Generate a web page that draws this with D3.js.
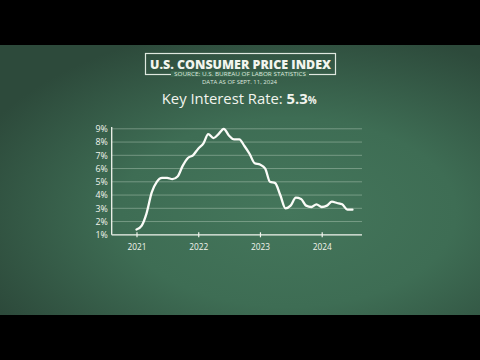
<!DOCTYPE html>
<html><head><meta charset="utf-8">
<script src="https://cdn.jsdelivr.net/npm/d3@7"></script>
<style>html,body{margin:0;padding:0;background:#000;}svg{display:block;}</style>
</head><body>
<script>
const months = d3.range(0, 43).map(i => new Date(2021, i, 1));
const cpi = [
  1.4, 1.7, 2.6, 4.2, 5.0, 5.3, 5.3, 5.2, 5.4, 6.2, 6.8, 7.0,
  7.5, 7.9, 8.6, 8.3, 8.6, 9.0, 8.5, 8.2, 8.2, 7.7, 7.1, 6.4,
  6.3, 6.0, 5.0, 4.9, 4.0, 3.0, 3.2, 3.8, 3.7, 3.2, 3.1, 3.3,
  3.1, 3.2, 3.5, 3.4, 3.3, 2.9, 2.9
];
const yTicks = [1, 2, 3, 4, 5, 6, 7, 8, 9];
const xTickYears = [2021, 2022, 2023, 2024];
const titleText = "U.S. CONSUMER PRICE INDEX";
const sourceText = "SOURCE: U.S. BUREAU OF LABOR STATISTICS";
const dateText = "DATA AS OF SEPT. 11, 2024";
const rateLabel = "Key Interest Rate: ";
const rateValue = "5.3";

const W = 480, H = 360;
const svg = d3.select("body").append("svg").attr("width", W).attr("height", H);
const defs = svg.append("defs");
const grad = defs.append("radialGradient").attr("id", "bg")
  .attr("cx", "60%").attr("cy", "62%").attr("r", "70%");
grad.append("stop").attr("offset", "0%").attr("stop-color", "#44765b");
grad.append("stop").attr("offset", "50%").attr("stop-color", "#3e6d54");
grad.append("stop").attr("offset", "100%").attr("stop-color", "#2d4a3b");

svg.append("rect").attr("width", W).attr("height", H).attr("fill", "#000");
svg.append("rect").attr("x", 0).attr("y", 45).attr("width", W).attr("height", 270).attr("fill", "url(#bg)");

const font = "'Open Sans', Lato, sans-serif";
const fg = "#f2f5ee";

// Title box
svg.append("rect").attr("x", 145.5).attr("y", 53.5).attr("width", 190).attr("height", 21)
  .attr("fill", "none").attr("stroke", "#dfe8df").attr("stroke-width", 1.2);
svg.append("rect").attr("x", 171).attr("y", 71).attr("width", 138).attr("height", 6).attr("fill", "#3a664e");
svg.append("text").attr("x", 240.5).attr("y", 68.5).attr("text-anchor", "middle")
  .attr("font-family", font).attr("font-weight", 800).attr("font-size", 11.5)
  .attr("fill", fg).attr("textLength", 181).attr("lengthAdjust", "spacingAndGlyphs").text(titleText);
svg.append("text").attr("x", 240).attr("y", 76.2).attr("text-anchor", "middle")
  .attr("font-family", font).attr("font-size", 5).attr("fill", "#dfe8df")
  .attr("textLength", 132).attr("lengthAdjust", "spacingAndGlyphs").text(sourceText);
svg.append("text").attr("x", 239.5).attr("y", 83.8).attr("text-anchor", "middle")
  .attr("font-family", font).attr("font-size", 5).attr("fill", "#dfe8df")
  .attr("textLength", 75).attr("lengthAdjust", "spacingAndGlyphs").text(dateText);

// Key interest rate
const kr = svg.append("text").attr("x", 239.2).attr("y", 103.5).attr("text-anchor", "middle")
  .attr("font-family", font).attr("font-size", 15).attr("fill", fg);
kr.append("tspan").text(rateLabel);
kr.append("tspan").attr("font-weight", 700).text(rateValue);
kr.append("tspan").attr("font-weight", 700).attr("font-size", 10).text("%");
const wNow = kr.node().getComputedTextLength();
kr.attr("font-size", 15 * 155 / wNow);
kr.select("tspan:last-child").attr("font-size", 10 * 155 / wNow);

// Scales
const x = d3.scaleTime().domain([new Date(2021, 0, 1), new Date(2024, 0, 1)]).range([136.5, 321.7]);
const y = d3.scaleLinear().domain([1, 9]).range([234.8, 128.8]);
const plotL = 111.7, plotR = 362;

// Gridlines
svg.append("g").selectAll("line").data(yTicks.slice(1)).join("line")
  .attr("x1", plotL).attr("x2", plotR).attr("y1", d => y(d)).attr("y2", d => y(d))
  .attr("stroke", "rgba(220,235,220,0.35)").attr("stroke-width", 1);

// Y axis
const yAxis = svg.append("g").attr("transform", `translate(${plotL},0)`)
  .call(d3.axisLeft(y).tickValues(yTicks).tickSize(0).tickPadding(4).tickFormat(d => d + "%"));
yAxis.select(".domain").remove();
yAxis.selectAll("text").attr("font-family", font).attr("font-size", 8.8).attr("fill", fg);
svg.append("line").attr("x1", plotL).attr("x2", plotL).attr("y1", 127).attr("y2", y(1))
  .attr("stroke", fg).attr("stroke-width", 1.3);

// X axis
const xAxis = svg.append("g").attr("transform", `translate(0,${y(1)})`)
  .call(d3.axisBottom(x).tickValues(xTickYears.map(v => new Date(v, 0, 1)))
    .tickSize(3).tickPadding(6).tickFormat(d3.timeFormat("%Y")));
xAxis.select(".domain").remove();
xAxis.selectAll(".tick line").attr("y1", -2.5).attr("y2", 2.5).attr("stroke", fg).attr("stroke-width", 1.2);
xAxis.selectAll("text").attr("font-family", font).attr("font-size", 8.3).attr("fill", fg);
svg.append("line").attr("x1", plotL).attr("x2", plotR).attr("y1", y(1)).attr("y2", y(1))
  .attr("stroke", fg).attr("stroke-width", 1.3);

// Line
const line = d3.line().x((d, i) => x(months[i])).y(d => y(d)).curve(d3.curveMonotoneX);
svg.append("path").datum(cpi).attr("d", line).attr("fill", "none")
  .attr("stroke", "#fbfcf8").attr("stroke-width", 2.3).attr("stroke-linejoin", "round").attr("stroke-linecap", "round");
</script>
</body></html>
